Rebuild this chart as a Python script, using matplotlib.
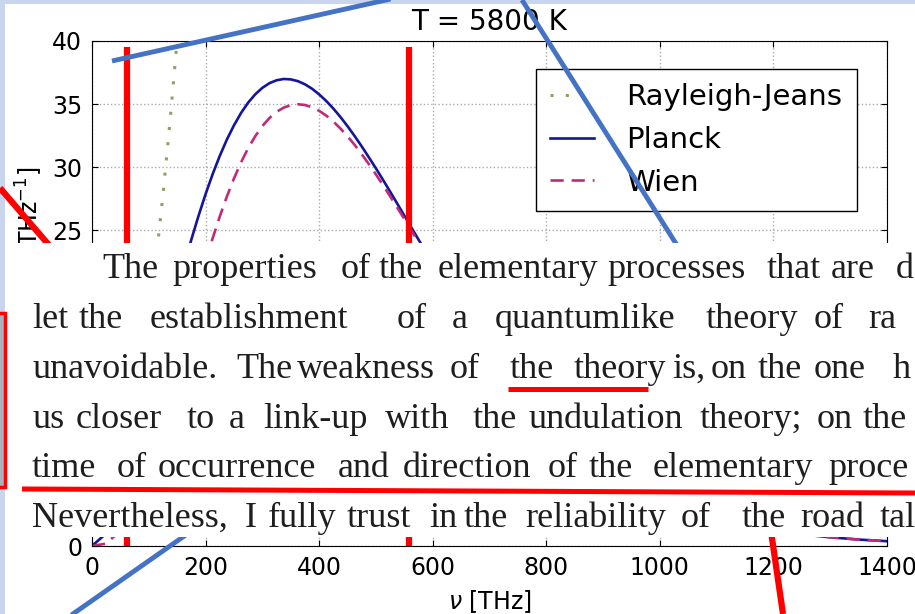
import matplotlib.pyplot as plt
from matplotlib.patches import Rectangle

# spectral radiance [kW m^-2 sr^-1 THz^-1], T = 5800 K
nu = [0, 25, 50, 75, 100, 125,
      150, 162.5, 175, 187.5, 200, 212.5, 225, 237.5, 250, 262.5,
      275, 287.5, 300, 312.5, 325, 337.5, 350, 362.5, 375, 387.5,
      400, 412.5, 425, 437.5, 450, 462.5, 475, 487.5, 500, 512.5,
      525, 537.5, 550, 562.5, 575, 587.5, 600,
      650, 700, 750, 800, 850, 900, 950, 1000, 1050, 1100, 1150, 1200,
      1250, 1300, 1350, 1400]
planck = [0, 1.00, 3.60, 7.23, 11.45, 15.88,
          20.23, 22.30, 24.28, 26.14, 27.87, 29.46, 30.90, 32.19, 33.32, 34.30,
          35.12, 35.78, 36.29, 36.66, 36.89, 36.99, 36.96, 36.82, 36.57, 36.22,
          35.77, 35.25, 34.65, 33.98, 33.25, 32.47, 31.65, 30.79, 29.91, 29.00,
          28.07, 27.12, 26.17, 25.22, 24.27, 23.33, 22.39,
          18.77, 15.48, 12.58, 10.08, 7.99, 6.27, 4.88, 3.76, 2.88, 2.19, 1.65,
          1.24, 0.93, 0.69, 0.51, 0.38]
wien = [0, 0.19, 1.22, 3.34, 6.45, 10.24,
        14.38, 16.49, 18.57, 20.60, 22.54, 24.38, 26.10, 27.68, 29.11, 30.39,
        31.51, 32.46, 33.26, 33.90, 34.39, 34.72, 34.92, 34.99, 34.93, 34.75,
        34.47, 34.09, 33.62, 33.07, 32.45, 31.77, 31.03, 30.25, 29.43, 28.58,
        27.70, 26.81, 25.90, 24.98, 24.06, 23.14, 22.23,
        18.69, 15.43, 12.55, 10.07, 7.99, 6.27, 4.87, 3.76, 2.88, 2.19, 1.65,
        1.24, 0.93, 0.69, 0.51, 0.38]
nu_rj = [0, 25, 50, 75, 100, 112.5, 125, 137.5, 150, 162.5, 175]
rayleigh_jeans = [0, 1.11, 4.46, 10.02, 17.82, 22.55, 27.84, 33.69, 40.09,
                  47.06, 54.57]

# quoted text pasted over the chart, with the word start positions (px)
text_lines = [
    "The properties of the elementary processes that are d",
    "let the establishment of a quantumlike theory of ra",
    "unavoidable. The weakness of the theory is, on the one h",
    "us closer to a link-up with the undulation theory; on the",
    "time of occurrence and direction of the elementary proce",
    "Nevertheless, I fully trust in the reliability of the road tal",
]
word_x = [
    [102, 172, 341, 379, 438, 607, 767, 831, 896],
    [32, 79, 150, 397, 452, 495, 706, 814, 868],
    [32, 236, 297, 450, 510, 574, 672, 711, 758, 814, 893],
    [32, 76, 187, 229, 263, 385, 473, 528, 700, 817, 863],
    [32, 117, 158, 338, 403, 548, 589, 653, 828],
    [32, 245, 268, 347, 429, 464, 525, 681, 742, 800, 880],
]
baselines = [278, 328, 378, 428, 477, 527]

# hand-drawn marks on the slide (pixel coordinates)
red_under = [((22, 489), (915, 493)), ((508, 389), (648, 389))]
red_behind = [((127, 47), (127, 546)), ((409, 47), (409, 546)),
              ((0, 188), (60, 258)), ((765, 490), (783, 614))]
blue_lines = [((112, 61), (395, -2)), ((522, 0), (680, 250)),
              ((60, 623), (200, 525))]

W, H = 915, 614
fig = plt.figure(figsize=(W / 100, H / 100), dpi=100, facecolor='#c8d5ec')


def px_axes(z):
    a = fig.add_axes([0, 0, 1, 1], zorder=z)
    a.set_xlim(0, W)
    a.set_ylim(H, 0)
    a.axis('off')
    return a


slide = px_axes(0)
slide.add_patch(Rectangle((5, 4), W, H, facecolor='white', edgecolor='none'))

# chart
plt.rcParams['font.family'] = 'DejaVu Sans'
ax = fig.add_axes([92 / W, 1 - 546 / H, 795 / W, 505 / H], zorder=1)
ax.plot(nu_rj, rayleigh_jeans, color='#9a9a62', linestyle=(0, (1, 4)),
        linewidth=2.2, label='Rayleigh-Jeans')
ax.plot(nu, planck, color='#15159a', linewidth=1.9, label='Planck')
ax.plot(nu, wien, color='#c02a78', linestyle=(0, (5, 3)), linewidth=1.9,
        label='Wien')
ax.set_xlim(0, 1400)
ax.set_ylim(0, 40)
ax.set_xticks(range(0, 1401, 200))
ax.set_yticks(range(0, 41, 5))
ax.tick_params(direction='in', top=True, right=True, length=4,
               labelsize=17, pad=7)
ax.grid(True, linestyle=':', color='#aaaaaa', linewidth=1)
ax.set_title('T = 5800 K', fontsize=20, pad=8)
ax.set_xlabel(r'$\nu$ [THz]', fontsize=17, labelpad=6)
ax.set_ylabel(r'$B_\nu$ [kW m$^{-2}$ sr$^{-1}$ THz$^{-1}$]', fontsize=17)
ax.yaxis.set_label_coords(-0.059, 0.476)
leg = ax.legend(loc='upper right', bbox_to_anchor=(0.962, 0.945), fontsize=21,
                fancybox=False, framealpha=1, edgecolor='black',
                borderaxespad=0, handlelength=1.5, handletextpad=1.1,
                borderpad=0.5, labelspacing=0.5)
leg.get_frame().set_linewidth(1)

# marks under the pasted text
under = px_axes(2)
for (x0, y0), (x1, y1) in red_behind:
    under.plot([x0, x1], [y0, y1], color='red', linewidth=4.5,
               solid_capstyle='butt')
for (x0, y0), (x1, y1) in blue_lines:
    under.plot([x0, x1], [y0, y1], color='#4472c4', linewidth=3.5,
               solid_capstyle='butt')

# pasted text
quote = px_axes(3)
quote.add_patch(Rectangle((7, 243), W - 7, 294, facecolor='white',
                          edgecolor='none'))
for line, xs, yb in zip(text_lines, word_x, baselines):
    for word, x in zip(line.split(), xs):
        quote.text(x, yb, word, fontsize=26, family='Liberation Serif',
                   color='#1e1e1e', va='baseline', ha='left')

# marks on top
over = px_axes(4)
over.add_patch(Rectangle((-5, 313), 10, 174, facecolor='#aab2bf',
                         edgecolor='red', linewidth=2.5))
for (x0, y0), (x1, y1) in red_under:
    over.plot([x0, x1], [y0, y1], color='red', linewidth=3.6,
              solid_capstyle='butt')

fig.savefig('out.png', dpi=100, facecolor=fig.get_facecolor())
